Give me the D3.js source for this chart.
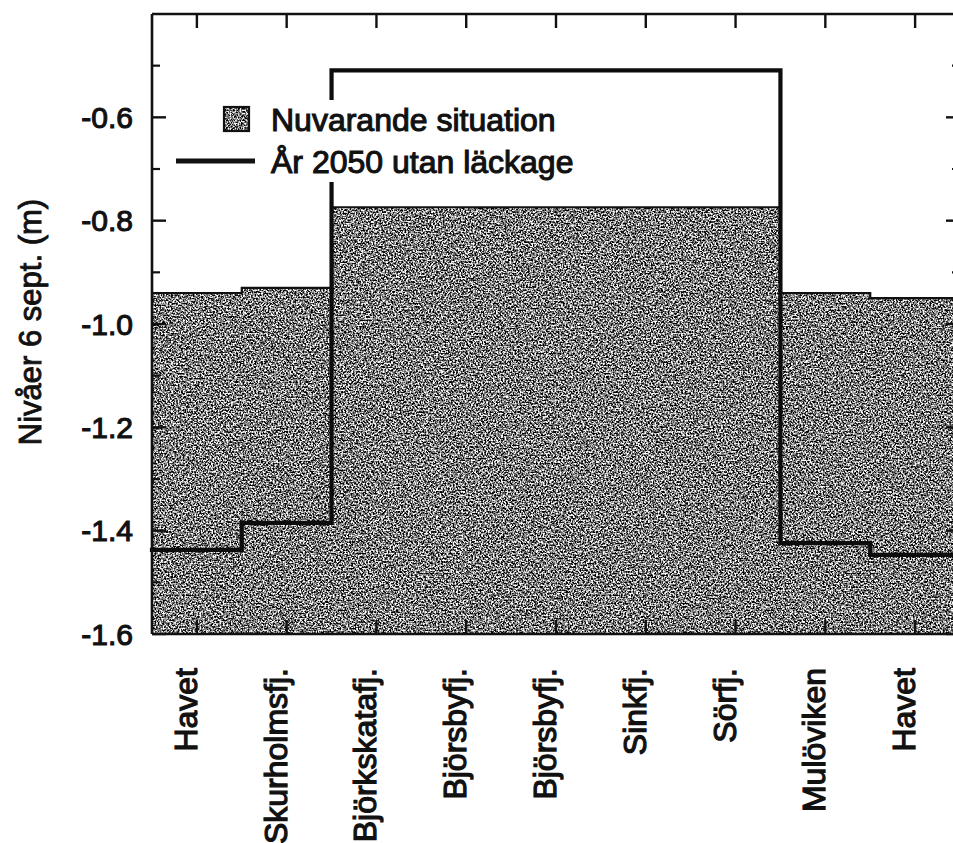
<!DOCTYPE html>
<html>
<head>
<meta charset="utf-8">
<script src="https://cdn.jsdelivr.net/npm/d3@7"></script>
<style>
  html, body { margin: 0; padding: 0; background: #fff; overflow: hidden; }
  svg { display: block; }
  text { font-family: "Liberation Sans", Arial, Helvetica, sans-serif; fill: #111; }
</style>
</head>
<body>
<svg id="chart" width="953" height="843"></svg>
<script>
// ---- data ----
const categories = ["Havet", "Skurholmsfj.", "Björkskatafj.", "Björsbyfj.", "Björsbyfj.", "Sinkfj.", "Sörfj.", "Mulöviken", "Havet"];
const nuvarande = [-0.940, -0.930, -0.774, -0.774, -0.774, -0.774, -0.774, -0.940, -0.950];
const ar2050 = [-1.437, -1.385, -0.509, -0.509, -0.509, -0.509, -0.509, -1.424, -1.447];
const yTicks = [-1.6, -1.4, -1.2, -1.0, -0.8, -0.6];
const yMinorTicks = [-1.5, -1.3, -1.1, -0.9, -0.7, -0.5];
const yLabel = "Nivåer 6 sept. (m)";
const legendLabels = ["Nuvarande situation", "År 2050 utan läckage"];

// ---- layout ----
const svg = d3.select("#chart");
const pLeft = 152, pRight = 960, pTop = 14, pBottom = 634;

const x = d3.scaleBand().domain(d3.range(categories.length)).range([pLeft, pRight]).paddingInner(0).paddingOuter(0);
const y = d3.scaleLinear().domain([-1.6, -0.4]).range([pBottom, pTop]);

// grain filter for the stippled grey fill
const defs = svg.append("defs");
const f = defs.append("filter").attr("id", "grain")
  .attr("filterUnits", "userSpaceOnUse")
  .attr("color-interpolation-filters", "sRGB")
  .attr("x", 0).attr("y", 0).attr("width", 953).attr("height", 843);
f.append("feTurbulence").attr("type", "fractalNoise").attr("baseFrequency", 0.6)
  .attr("numOctaves", 2).attr("seed", 7).attr("result", "noise");
f.append("feColorMatrix").attr("in", "noise").attr("type", "matrix")
  .attr("values", "3.2 0 0 0 -1.12  3.2 0 0 0 -1.12  3.2 0 0 0 -1.12  0 0 0 0 1")
  .attr("result", "grey");
f.append("feComposite").attr("in", "grey").attr("in2", "SourceGraphic").attr("operator", "in");

// step-path generator across bands
function stepPoints(vals) {
  const pts = [];
  vals.forEach((v, i) => {
    pts.push([x(i), y(v)]);
    pts.push([x(i) + x.bandwidth(), y(v)]);
  });
  return pts;
}
const line = d3.line();

// grey area (current situation)
const area = d3.area().x(d => d[0]).y0(y(-1.6)).y1(d => d[1]);
const nuvPts = stepPoints(nuvarande);
svg.append("path").attr("d", area(nuvPts)).attr("fill", "#000").attr("filter", "url(#grain)");
svg.append("path").attr("d", line(nuvPts)).attr("fill", "none").attr("stroke", "#111").attr("stroke-width", 2.2);

// 2050 line
svg.append("path").attr("d", line(stepPoints(ar2050)))
  .attr("fill", "none").attr("stroke", "#0d0d0d").attr("stroke-width", 4.2)
  .attr("stroke-linejoin", "miter").attr("stroke-linecap", "square");

// legend background + legend
const lg = svg.append("g");
lg.append("rect").attr("x", 170).attr("y", 100).attr("width", 400).attr("height", 82).attr("fill", "#fff");
lg.append("rect").attr("x", 224).attr("y", 107).attr("width", 25).attr("height", 24).attr("fill", "#000").attr("filter", "url(#grain)");
lg.append("rect").attr("x", 224).attr("y", 107).attr("width", 25).attr("height", 24).attr("fill", "none").attr("stroke", "#111").attr("stroke-width", 2.2);
lg.append("line").attr("x1", 176).attr("x2", 255).attr("y1", 161).attr("y2", 161).attr("stroke", "#111").attr("stroke-width", 5);
lg.append("text").attr("x", 271).attr("y", 131).attr("font-size", 32).attr("stroke", "#111").attr("stroke-width", 1.1).text(legendLabels[0]);
lg.append("text").attr("x", 271).attr("y", 173).attr("font-size", 32).attr("stroke", "#111").attr("stroke-width", 1.1).text(legendLabels[1]);

// frame
const ax = svg.append("g").attr("stroke", "#111").attr("fill", "none");
ax.append("line").attr("x1", pLeft).attr("x2", pLeft).attr("y1", pTop).attr("y2", pBottom).attr("stroke-width", 2.6);
ax.append("line").attr("x1", pLeft).attr("x2", pRight).attr("y1", pTop).attr("y2", pTop).attr("stroke-width", 2.6);
ax.append("line").attr("x1", pLeft).attr("x2", pRight).attr("y1", pBottom).attr("y2", pBottom).attr("stroke-width", 2.6);
ax.append("line").attr("x1", pRight).attr("x2", pRight).attr("y1", pTop).attr("y2", pBottom).attr("stroke-width", 2.6);

// category ticks top and bottom (inward)
const cx = i => x(i) + x.bandwidth() / 2;
categories.forEach((c, i) => {
  ax.append("line").attr("x1", cx(i)).attr("x2", cx(i)).attr("y1", pTop).attr("y2", pTop + 14).attr("stroke-width", 2.4);
  ax.append("line").attr("x1", cx(i)).attr("x2", cx(i)).attr("y1", pBottom).attr("y2", pBottom - 14).attr("stroke-width", 2.4);
});

// y ticks left and right (inward)
yTicks.forEach(t => {
  ax.append("line").attr("x1", pLeft).attr("x2", pLeft + 14).attr("y1", y(t)).attr("y2", y(t)).attr("stroke-width", 2.4);
  ax.append("line").attr("x1", pRight).attr("x2", pRight - 14).attr("y1", y(t)).attr("y2", y(t)).attr("stroke-width", 2.4);
});
yMinorTicks.forEach(t => {
  ax.append("line").attr("x1", pLeft).attr("x2", pLeft + 8).attr("y1", y(t)).attr("y2", y(t)).attr("stroke-width", 2.2);
  ax.append("line").attr("x1", pRight).attr("x2", pRight - 8).attr("y1", y(t)).attr("y2", y(t)).attr("stroke-width", 2.2);
});

// y tick labels
svg.append("g").selectAll("text").data(yTicks).join("text")
  .attr("x", 133).attr("y", d => y(d)).attr("dy", "0.36em")
  .attr("text-anchor", "end").attr("font-size", 30)
  .attr("stroke", "#111").attr("stroke-width", 1.1)
  .text(d => d3.format(".1f")(d).replace("−", "-"));

// category labels (rotated)
svg.append("g").selectAll("text").data(categories).join("text")
  .attr("transform", (d, i) => `translate(${cx(i)},668) rotate(-90)`)
  .attr("text-anchor", "end").attr("font-size", 32)
  .attr("stroke", "#111").attr("stroke-width", 1.2)
  .text(d => d);

// y axis title
svg.append("text")
  .attr("transform", "translate(41,322) rotate(-90)")
  .attr("text-anchor", "middle").attr("font-size", 31)
  .attr("stroke", "#111").attr("stroke-width", 0.9)
  .text(yLabel);
</script>
</body>
</html>
